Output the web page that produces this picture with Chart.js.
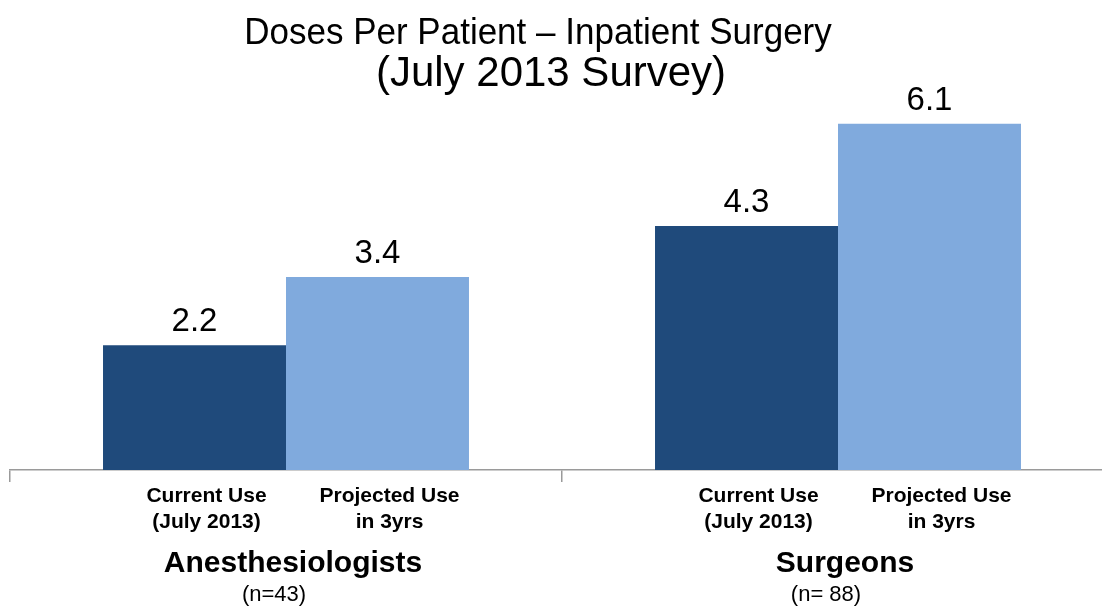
<!DOCTYPE html>
<html>
<head>
<meta charset="utf-8">
<title>Doses Per Patient – Inpatient Surgery</title>
<script src="https://cdn.jsdelivr.net/npm/chart.js@4.4.1/dist/chart.umd.min.js"></script>
<style>
  html, body { margin: 0; padding: 0; background: #ffffff; overflow: hidden; }
  #wrap { width: 1102px; height: 608px; overflow: hidden; }
  canvas { display: block; }
</style>
</head>
<body>
<div id="wrap">
  <canvas id="doses-chart" width="1120" height="608"></canvas>
</div>
<script>
// groups along the x axis
const groups = ["Anesthesiologists", "Surgeons"];
const groupSizes = ["(n=43)", "(n= 88)"];

// series (one bar per group each)
const seriesNames = ["Current Use (July 2013)", "Projected Use in 3yrs"];
const seriesLabelLines = [
  ["Current Use", "(July 2013)"],
  ["Projected Use", "in 3yrs"],
];
const currentUse = [2.2, 4.3];
const projectedUse = [3.4, 6.1];

const titleLine1 = "Doses Per Patient – Inpatient Surgery";
const titleLine2 = "(July 2013 Survey)";

const FONT = "'Liberation Sans', Arial, sans-serif";

// ===================================
// Text drawn around the bars
// ===================================
const textPlugin = {
  id: "doseText",
  afterDatasetsDraw(chart) {
    const ctx = chart.ctx;
    const xScale = chart.scales.x;
    const bottom = chart.chartArea.bottom;

    ctx.save();
    ctx.fillStyle = "#000000";
    ctx.textAlign = "center";
    ctx.textBaseline = "alphabetic";

    // value above every bar
    ctx.font = "33px " + FONT;
    chart.data.datasets.forEach((ds, i) => {
      chart.getDatasetMeta(i).data.forEach((bar, j) => {
        ctx.fillText(ds.data[j].toFixed(1), bar.x, bar.y - 14);
      });
    });

    // series name under every bar
    ctx.font = "bold 21px " + FONT;
    chart.data.datasets.forEach((ds, i) => {
      chart.getDatasetMeta(i).data.forEach((bar) => {
        seriesLabelLines[i].forEach((line, k) => {
          ctx.fillText(line, bar.x + 12, bottom + 32 + k * 26);
        });
      });
    });

    // group name and sample size
    groups.forEach((g, j) => {
      const cx = xScale.getPixelForValue(j);
      ctx.font = "bold 30px " + FONT;
      ctx.fillText(g, cx + 7, bottom + 102);
      ctx.font = "22px " + FONT;
      ctx.fillText(groupSizes[j], cx - 12, bottom + 131);
    });

    // two-line heading
    ctx.font = "35px " + FONT;
    ctx.save();
    ctx.translate(538, 44);
    ctx.scale(1, 1.07);
    ctx.fillText(titleLine1, 0, 0);
    ctx.restore();

    ctx.font = "42px " + FONT;
    ctx.fillText(titleLine2, 551, 86);

    ctx.restore();
  },
};

// ===================================
// Chart.js Initialization
// ===================================
const ctx = document.getElementById("doses-chart").getContext("2d");

new Chart(ctx, {
  type: "bar",
  data: {
    labels: groups,
    datasets: [
      {
        label: seriesNames[0],
        data: currentUse,
        backgroundColor: "#1f4a7b",
        borderWidth: 0,
      },
      {
        label: seriesNames[1],
        data: projectedUse,
        backgroundColor: "#80aadd",
        borderWidth: 0,
      },
    ],
  },
  options: {
    responsive: false,
    animation: false,
    layout: {
      padding: { top: 16, bottom: 126, left: 10, right: 6 },
    },
    datasets: {
      bar: {
        categoryPercentage: 0.663,
        barPercentage: 1.0,
      },
    },
    plugins: {
      legend: { display: false },
      title: { display: false },
      tooltip: { enabled: false },
    },
    scales: {
      x: {
        display: true,
        grid: {
          display: true,
          offset: true,
          drawOnChartArea: false,
          drawTicks: true,
          tickLength: 12,
          color: "#9a9a9a",
          lineWidth: 1.5,
        },
        border: {
          display: true,
          color: "#9a9a9a",
          width: 1.5,
        },
        ticks: { display: false },
      },
      y: {
        display: false,
        min: 0,
        max: 8,
      },
    },
  },
  plugins: [textPlugin],
});
</script>
</body>
</html>
